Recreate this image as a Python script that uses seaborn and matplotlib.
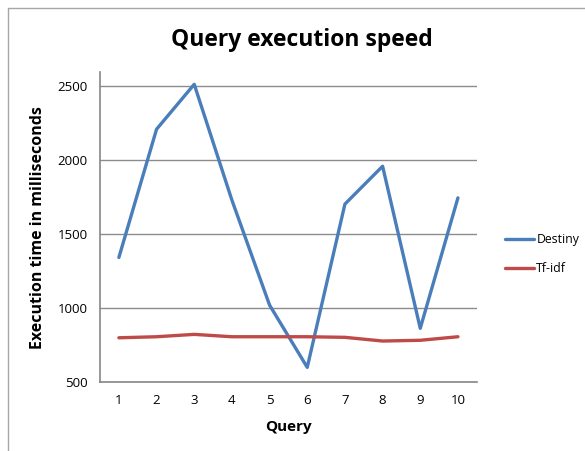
import pandas as pd
import matplotlib.pyplot as plt
import seaborn as sns
from matplotlib.lines import Line2D

# valores
queries = [1, 2, 3, 4, 5, 6, 7, 8, 9, 10]
destiny = [1342, 2209, 2513, 1730, 1020, 599, 1703, 1959, 863, 1745]
tfidf = [799, 806, 822, 806, 806, 806, 802, 777, 782, 806]
series_names = ['Destiny', 'Tf-idf']
yticks = [500, 1000, 1500, 2000, 2500]

df = pd.DataFrame({'Query': queries, 'Destiny': destiny, 'Tf-idf': tfidf})
df_long = df.melt(id_vars='Query', var_name='Serie', value_name='Tempo')
df_long['pos'] = df_long['Query'] - 1

sns.set_theme(style="white")
plt.rcParams['font.family'] = ['Open Sans', 'DejaVu Sans']
plt.rcParams['text.color'] = 'black'
plt.rcParams['axes.labelcolor'] = 'black'

fig = plt.figure(figsize=(5.85, 4.51), dpi=100)
ax = fig.add_axes([0.171, 0.153, 0.644, 0.687])

cores = {'Destiny': '#4A7EBB', 'Tf-idf': '#BE4B48'}
sns.lineplot(data=df_long, x='pos', y='Tempo', hue='Serie', hue_order=series_names,
             palette=cores, linewidth=2.4, ax=ax, legend=False)

ax.set_xlim(-0.5, 9.5)
ax.set_ylim(500, 2595)
ax.set_yticks(yticks)
ax.set_yticklabels([str(v) for v in yticks], fontsize=9.5, color='black')
ax.yaxis.grid(True, color='#8c8c8c', linewidth=1)
ax.set_axisbelow(True)

# ticks nas fronteiras das categorias, rotulos no centro
ax.set_xticks([i - 0.5 for i in range(11)])
ax.set_xticklabels([])
ax.set_xticks(range(10), minor=True)
ax.set_xticklabels([str(q) for q in queries], minor=True, fontsize=9.5, color='black')
ax.tick_params(axis='x', which='major', direction='out', length=5, width=1, color='#868686')
ax.tick_params(axis='x', which='minor', length=0, pad=9)
ax.tick_params(axis='y', direction='out', length=5, width=1, color='#868686', pad=4)

for lado in ['top', 'right']:
    ax.spines[lado].set_visible(False)
for lado in ['left', 'bottom']:
    ax.spines[lado].set_color('#868686')
    ax.spines[lado].set_linewidth(1.2)

ax.set_xlabel('Query', fontsize=11, weight='bold', labelpad=9)
ax.set_ylabel('Execution time in milliseconds', fontsize=11.5, weight='bold', labelpad=8)

fig.text(0.516, 0.912, 'Query execution speed', ha='center', va='center',
         fontsize=16.5, weight='bold')

# legenda a direita
handles = [Line2D([], [], color=cores[s], linewidth=2.4) for s in series_names]
fig.legend(handles, series_names, loc='center left', bbox_to_anchor=(0.852, 0.436),
           frameon=False, fontsize=8.8, handlelength=2.4, handletextpad=0.2,
           labelspacing=1.3, borderpad=0)

# moldura do grafico (recortada a direita e embaixo)
fig.add_artist(Line2D([0.014, 0.014], [0.0, 0.982], color='#a6a6a6', linewidth=1,
                      transform=fig.transFigure))
fig.add_artist(Line2D([0.014, 1.0], [0.982, 0.982], color='#a6a6a6', linewidth=1,
                      transform=fig.transFigure))

fig.savefig('out.png', dpi=100, facecolor='white')
